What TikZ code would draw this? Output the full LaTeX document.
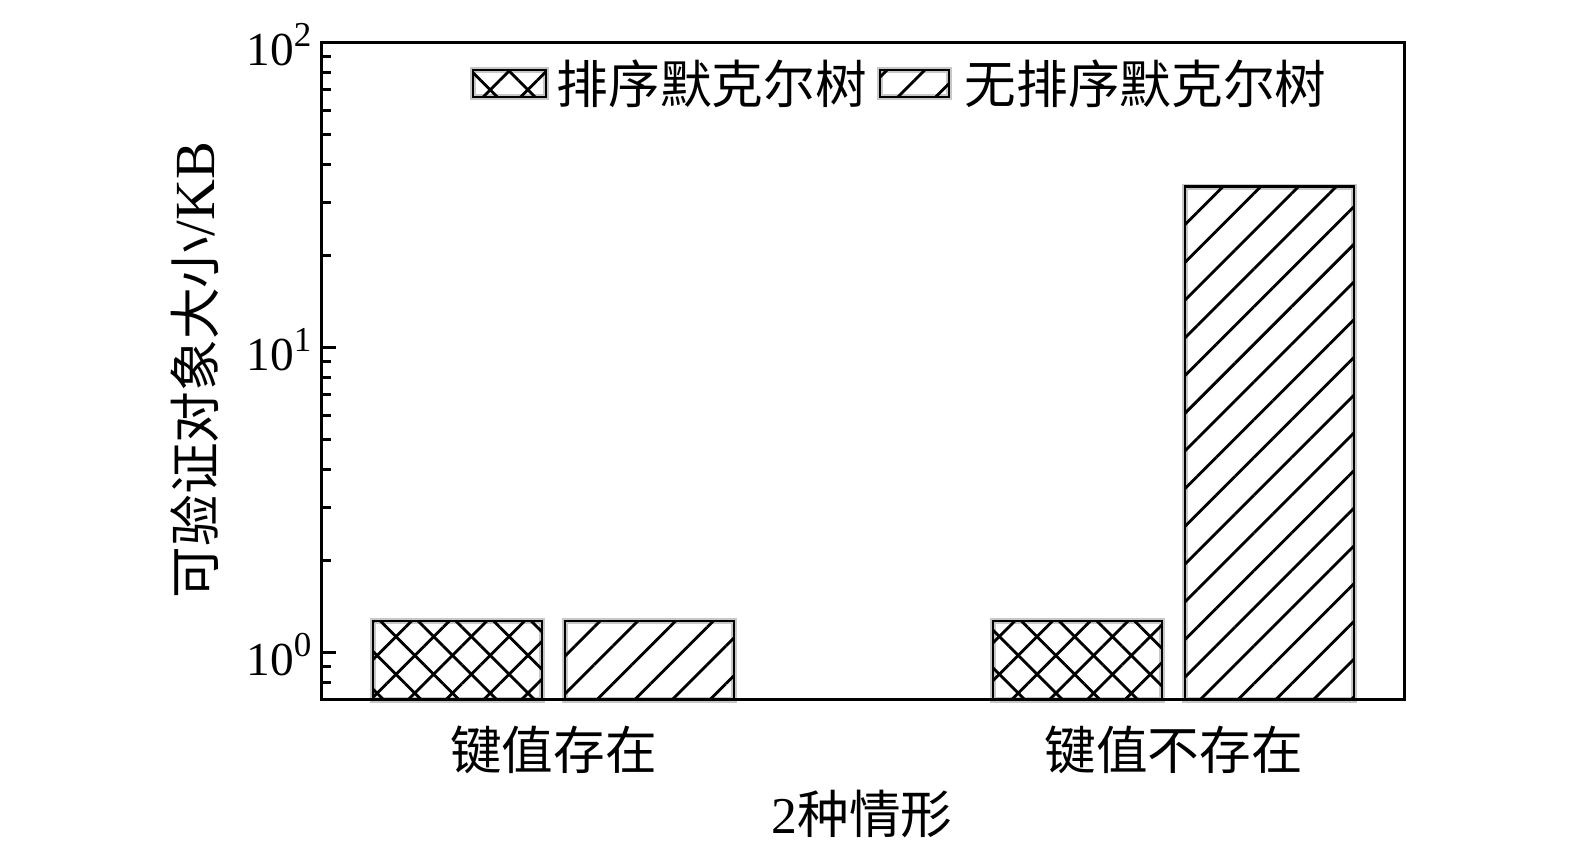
\documentclass[tikz,border=0pt]{standalone}
\usepackage{fontspec}
\setmainfont{Liberation Serif}
\newfontfamily\cjk{Noto Sans CJK SC}
\usepackage{tikz}
\usetikzlibrary{patterns.meta}
\newcommand{\ly}[1]{191.3+305*log10(#1)}
\newcommand{\dec}[1]{10\raisebox{0.4em}{\fontsize{10.5}{11}\selectfont #1}}
\tikzstyle{axisline} = [draw=black, line width=0.9pt]
\tikzstyle{barbox} = [draw=black, line width=0.85pt, preaction={draw=black!22, line width=1.7pt}]
\tikzstyle{hatchfill} = [pattern={Lines[angle=45, distance=8pt, line width=0.85pt]}]
\tikzstyle{crossfill} = [pattern={Lines[angle=45, distance=8pt, line width=0.85pt]}, postaction={pattern={Lines[angle=-45, distance=8pt, line width=0.85pt]}}]
\tikzstyle{ticklabel} = [anchor=base east, inner sep=0pt, font=\fontsize{14.2}{15}\selectfont]
\tikzstyle{cjklabel} = [inner sep=0pt, font=\fontsize{15.5}{17}\selectfont\cjk]

\begin{document}
\begin{tikzpicture}[x=0.3pt, y=0.3pt]
\path[fill=white, use as bounding box] (0,0) rectangle (1575,844);

% bars =============================
\path[crossfill, barbox] (373,{\ly{0.7}}) rectangle (542,{\ly{1.27}});
\path[hatchfill, barbox] (565,{\ly{0.7}}) rectangle (734,{\ly{1.27}});
\path[crossfill, barbox] (993,{\ly{0.7}}) rectangle (1162,{\ly{1.27}});
\path[hatchfill, barbox] (1185,{\ly{0.7}}) rectangle (1354,{\ly{33.7}});

% axis box and ticks
\coordinate (ll) at (321,{\ly{0.7}});
\coordinate (ur) at (1404,{\ly{100}});
\draw[axisline] (ll) rectangle (ur);
\foreach \v in {1,10,100}
  \draw[axisline] (321,{\ly{\v}}) -- ++(15,0);
\foreach \v in {0.8,0.9,2,3,4,5,6,7,8,9,20,30,40,50,60,70,80,90}
  \draw[axisline] (321,{\ly{\v}}) -- ++(10,0);

% tick labels
\node[ticklabel] (t0) at (312,{\ly{1}-23}) {\dec{0}};
\node[ticklabel] (t1) at (312,{\ly{10}-23}) {\dec{1}};
\node[ticklabel] (t2) at (312,{\ly{100}-23}) {\dec{2}};

% legend
\path[crossfill, barbox] (473,747) rectangle (546,774);
\node[cjklabel, anchor=west] (leg1) at (556,760.5) {排序默克尔树};
\path[hatchfill, barbox] (880,747) rectangle (949,774);
\node[cjklabel, anchor=west] (leg2) at (964,760.5) {无排序默克尔树};

% axis labels
\node[cjklabel] (cat1) at (553.5,94) {键值存在};
\node[cjklabel] (cat2) at (1173.5,94) {键值不存在};
\node[cjklabel] (xlab) at (862,30) {\rmfamily 2\cjk 种情形};
\node[cjklabel, rotate=90] (ylab) at (195,474) {可验证对象大小{\rmfamily\fontsize{17}{18}\selectfont /KB}};

\end{tikzpicture}
\end{document}
